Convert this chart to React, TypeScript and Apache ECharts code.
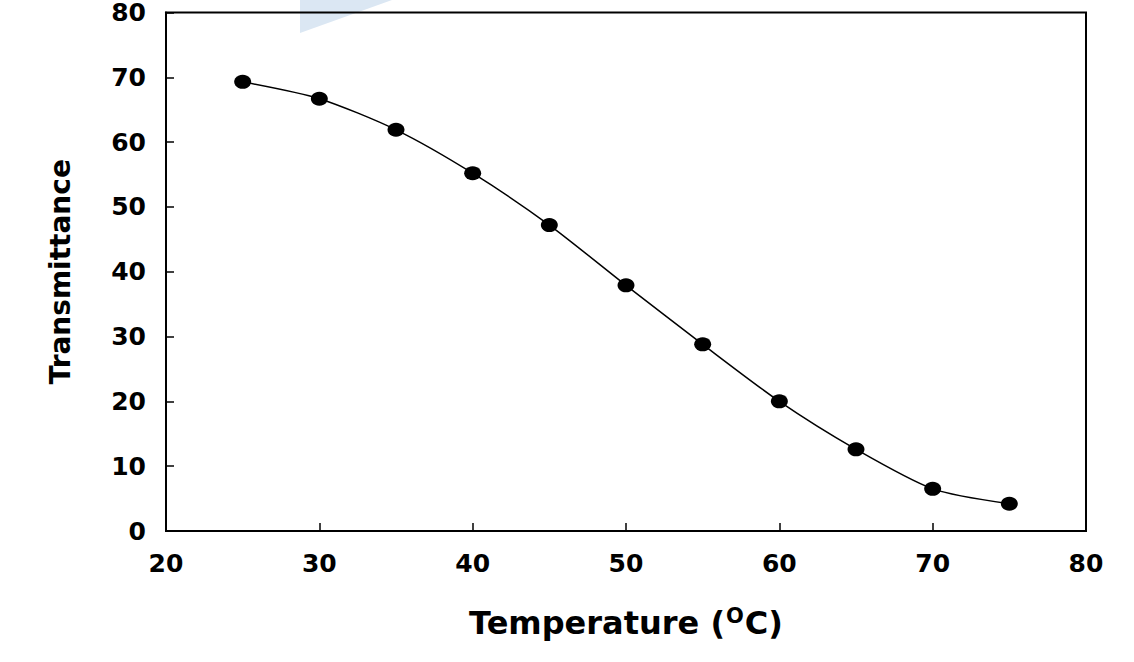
import React, { useEffect, useRef } from "react";
import * as echarts from "echarts";

const temperatures = [25, 30, 35, 40, 45, 50, 55, 60, 65, 70, 75];
const transmittance = [69.3, 66.7, 61.9, 55.2, 47.2, 37.9, 28.8, 20.0, 12.6, 6.5, 4.2];
const xTitle = "Temperature (";
const yTitle = "Transmittance";

export default function App() {
  const ref = useRef<HTMLDivElement>(null);
  useEffect(() => {
    document.body.style.margin = "0";
    const chart = echarts.init(ref.current!, null, { renderer: "svg" });
    const font = "'DejaVu Sans', 'Liberation Sans', Arial, sans-serif";
    chart.setOption({
      animation: false,
      backgroundColor: "#ffffff",
      grid: {
        left: 166,
        right: 48,
        top: 12,
        bottom: 131,
        show: true,
        borderColor: "#000",
        borderWidth: 2,
        backgroundColor: "transparent",
      },
      graphic: [
        {
          type: "polygon",
          silent: true,
          z: -1,
          shape: { points: [[300, 0], [392, 0], [300, 33]] },
          style: { fill: "#dbe7f3" },
        },
      ],
      xAxis: {
        type: "value",
        min: 20,
        max: 80,
        interval: 10,
        axisLine: { show: true, lineStyle: { color: "#000", width: 2 } },
        axisTick: { show: true, inside: true, length: 8, lineStyle: { color: "#000", width: 1.5 } },
        splitLine: { show: false },
        axisLabel: {
          margin: 20,
          color: "#000",
          fontFamily: font,
          fontWeight: "bold",
          fontSize: 25,
        },
        name: "{main|" + xTitle + "}{sup|O}{main|C)}",
        nameLocation: "middle",
        nameGap: 74,
        nameTextStyle: {
          rich: {
            main: { fontFamily: font, fontWeight: "bold", fontSize: 32, color: "#000" },
            sup: {
              fontFamily: font,
              fontWeight: "bold",
              fontSize: 21,
              color: "#000",
              padding: [0, 1, 15, 1],
            },
          },
        },
      },
      yAxis: {
        type: "value",
        min: 0,
        max: 80,
        interval: 10,
        axisLine: { show: true, lineStyle: { color: "#000", width: 2 } },
        axisTick: { show: true, inside: true, length: 8, lineStyle: { color: "#000", width: 1.5 } },
        splitLine: { show: false },
        axisLabel: {
          margin: 20,
          color: "#000",
          fontFamily: font,
          fontWeight: "bold",
          fontSize: 25,
        },
        name: yTitle,
        nameLocation: "middle",
        nameGap: 92,
        nameTextStyle: {
          fontFamily: font,
          fontWeight: "bold",
          fontSize: 28,
          color: "#000",
        },
      },
      series: [
        {
          type: "line",
          data: temperatures.map((t, i) => [t, transmittance[i]]),
          smooth: 0.25,
          symbol: "circle",
          symbolSize: [17, 14],
          itemStyle: { color: "#000" },
          lineStyle: { color: "#000", width: 1.5 },
        },
      ],
    });
    return () => chart.dispose();
  }, []);
  return <div ref={ref} style={{ width: 1134, height: 662 }} />;
}
